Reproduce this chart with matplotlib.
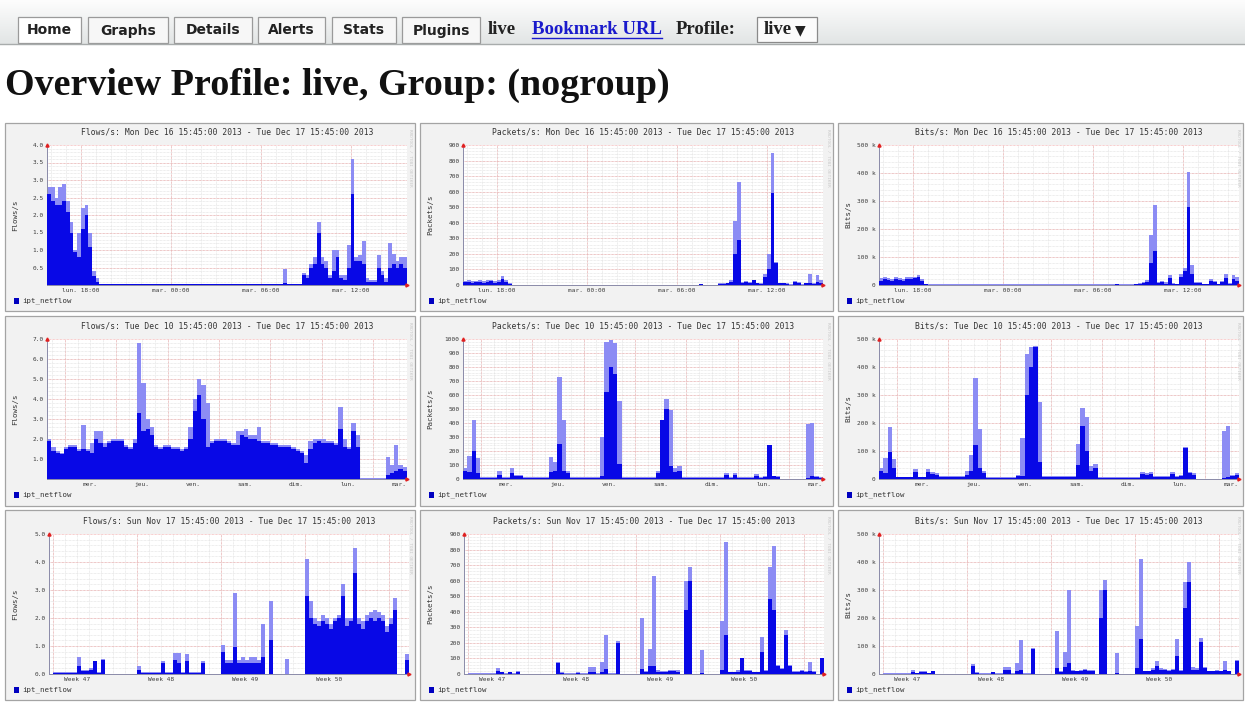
import numpy as np
import matplotlib.pyplot as plt
from matplotlib.patches import Rectangle
from matplotlib.colors import LinearSegmentedColormap

W, H = 1245, 702

# ---- data ----
# day graphs: 96 bins of 15 min, Mon Dec 16 15:45 -> Tue Dec 17 15:45
flows_day_avg = [2.6, 2.4, 2.3, 2.3, 2.4, 2.1, 1.5, 0.95, 0.8, 1.6, 2.0, 1.1, 0.25, 0.08] + [0.03] * 49 + [0.05] + [0.03] * 4 + \
    [0.3, 0.2, 0.5, 0.6, 1.5, 0.6, 0.5, 0.2, 0.4, 0.8, 0.2, 0.15, 0.5, 2.6, 0.7, 0.7, 0.6, 0.1, 0.1, 0.1, 0.5, 0.3, 0.1, 0.5, 0.6, 0.5, 0.6, 0.5]
flows_day_max = [2.8, 2.8, 2.5, 2.8, 2.9, 2.4, 1.8, 1.0, 1.5, 2.2, 2.3, 1.5, 0.4, 0.2] + [0.04] * 49 + [0.45] + [0.04] * 4 + \
    [0.35, 0.3, 0.6, 0.8, 1.8, 0.8, 0.7, 0.3, 1.0, 1.0, 0.3, 0.3, 1.15, 3.6, 0.8, 0.85, 1.25, 0.2, 0.15, 0.15, 0.85, 0.4, 0.2, 1.2, 0.9, 0.7, 0.8, 0.8]
pkt_day_avg = [18, 20, 15, 18, 22, 15, 20, 25, 12, 20, 40, 20, 5] + [2] * 50 + [5] + [2] * 4 + \
    [5, 8, 10, 20, 200, 290, 15, 20, 15, 30, 10, 5, 50, 100, 590, 140, 10, 10, 5, 3, 20, 15, 3, 10, 15, 5, 20, 15]
pkt_day_max = [25, 30, 25, 28, 30, 25, 35, 35, 25, 35, 55, 30, 10] + [3] * 50 + [8] + [3] * 4 + \
    [10, 10, 15, 30, 410, 660, 20, 25, 20, 35, 15, 10, 70, 200, 850, 150, 15, 12, 10, 5, 25, 20, 5, 15, 70, 10, 65, 30]
bits_day_avg = [15, 20, 18, 15, 20, 18, 15, 22, 20, 25, 30, 15, 3] + [1] * 50 + [3] + [1] * 4 + \
    [2, 5, 8, 12, 80, 120, 8, 10, 5, 25, 5, 3, 30, 50, 280, 40, 8, 8, 3, 2, 15, 10, 2, 10, 25, 5, 20, 15]
bits_day_max = [25, 28, 25, 22, 28, 25, 22, 30, 28, 30, 35, 20, 5] + [2] * 50 + [5] + [2] * 4 + \
    [4, 8, 12, 18, 180, 285, 12, 15, 10, 35, 8, 5, 40, 60, 405, 70, 12, 12, 5, 3, 22, 15, 3, 15, 40, 8, 35, 30]

# week graphs: 84 bins of 2 h, Tue Dec 10 15:45 -> Tue Dec 17 15:45
flows_week_avg = [1.9, 1.4, 1.3, 1.25, 1.5, 1.6, 1.6, 1.4, 1.5, 1.4, 1.3, 2.0, 1.8, 1.6, 1.8, 1.9, 1.9, 1.9, 1.6, 1.5,
                  1.8, 3.3, 2.4, 2.5, 2.2, 1.6, 1.5, 1.6, 1.6, 1.5, 1.5, 1.4, 1.5, 2.0, 3.4, 4.2, 3.0, 1.6, 1.8, 1.9,
                  1.9, 1.9, 1.8, 1.7, 1.7, 2.2, 2.1, 2.0, 2.0, 1.9, 1.8, 1.8, 1.7, 1.7, 1.6, 1.6, 1.6, 1.5, 1.4, 1.3,
                  0.8, 1.5, 1.8, 1.9, 1.8, 1.8, 1.8, 1.7, 2.5, 1.6, 1.5, 2.4, 1.6] + [0.02] * 6 + [0.2, 0.3, 0.4, 0.5, 0.4]
flows_week_max = [2.0, 1.6, 1.4, 1.3, 1.6, 1.7, 1.7, 1.5, 2.7, 1.5, 1.8, 2.4, 2.4, 1.8, 1.9, 2.0, 2.0, 2.0, 1.7, 1.6,
                  2.0, 6.8, 4.8, 3.0, 2.6, 1.7, 1.6, 1.7, 1.7, 1.6, 1.6, 1.5, 1.6, 2.6, 4.0, 5.0, 4.7, 3.8, 1.9, 2.0,
                  2.0, 2.0, 1.9, 1.8, 2.4, 2.4, 2.5, 2.2, 2.2, 2.6, 1.9, 1.9, 1.8, 1.8, 1.7, 1.7, 1.7, 1.6, 1.5, 1.4,
                  1.2, 1.9, 2.0, 2.0, 2.0, 1.9, 1.9, 1.8, 3.6, 2.0, 1.6, 2.8, 2.2] + [0.03] * 6 + [1.1, 0.7, 1.7, 0.7, 0.6]
pkt_week_avg = [60, 50, 200, 40, 10, 10, 10, 10, 30, 10, 10, 40, 25, 20] + [10] * 6 + [50, 60, 250, 60, 40, 10] + \
    [10] * 6 + [20, 620, 800, 750, 110, 10] + [10] * 7 + [40, 420, 500, 90, 50, 60] + [10] * 10 + [30, 10, 30] + \
    [10] * 4 + [20, 10, 15, 240, 20, 15] + [0] * 6 + [5, 20, 15, 10]
pkt_week_max = [80, 165, 420, 150, 15, 15, 15, 15, 60, 15, 15, 80, 30, 30] + [15] * 6 + [160, 120, 730, 420, 60, 15] + \
    [15] * 6 + [300, 980, 990, 970, 560, 15] + [15] * 7 + [60, 280, 570, 490, 80, 95] + [15] * 10 + [45, 15, 45] + \
    [15] * 4 + [35, 15, 25, 245, 25, 20] + [0] * 6 + [390, 400, 25, 15]
bits_week_avg = [30, 20, 95, 40, 6, 6, 6, 6, 25, 6, 6, 25, 18, 15] + [8] * 6 + [15, 30, 120, 40, 20] + [5] * 7 + \
    [10, 10, 300, 400, 470, 60] + [8] * 8 + [50, 190, 100, 30, 40] + [5] * 10 + [18, 15, 18] + [8] * 4 + \
    [18, 8, 10, 110, 20, 15] + [0] * 6 + [5, 8, 10, 15]
bits_week_max = [40, 75, 185, 70, 8, 8, 8, 8, 35, 8, 8, 35, 25, 20] + [10] * 6 + [30, 85, 360, 180, 30] + [8] * 7 + \
    [15, 145, 445, 470, 475, 275] + [10] * 8 + [125, 255, 220, 45, 55] + [8] * 10 + [25, 20, 25] + [10] * 4 + \
    [25, 10, 15, 115, 25, 20] + [0] * 6 + [170, 190, 15, 20]

# month graphs: 90 bins of 8 h, Sun Nov 17 15:45 -> Tue Dec 17 15:45
flows_month_avg = [0.0] + [0.05] * 6 + [0.3, 0.1, 0.1, 0.15, 0.45, 0.05, 0.5] + [0.0] * 8 + [0.15] + [0.05] * 5 + \
    [0.4, 0.05, 0.05, 0.5, 0.4, 0.05, 0.45, 0.05, 0.05, 0.05, 0.4] + [0.0] * 4 + \
    [0.8, 0.4, 0.4, 0.95, 0.4, 0.4, 0.4, 0.4, 0.4, 0.4, 0.6, 0.0, 1.2] + [0.0] * 8 + \
    [2.8, 2.0, 1.8, 1.7, 1.9, 1.8, 1.6, 1.9, 2.0, 2.8, 1.7, 1.9, 3.6, 1.8, 1.6, 1.9, 2.0, 1.9, 2.0, 1.9, 1.5, 1.8, 2.3, 0.0, 0.0, 0.5]
flows_month_max = [0.0] + [0.06] * 6 + [0.6, 0.15, 0.15, 0.2, 0.45, 0.06, 0.55] + [0.0] * 8 + [0.3] + [0.06] * 5 + \
    [0.45, 0.06, 0.06, 0.75, 0.75, 0.06, 0.7, 0.06, 0.06, 0.06, 0.45] + [0.0] * 4 + \
    [1.05, 0.5, 0.5, 2.9, 0.5, 0.6, 0.5, 0.6, 0.6, 0.5, 1.8, 0.0, 2.6] + [0.0] * 3 + [0.55] + [0.0] * 4 + \
    [4.1, 2.6, 2.0, 1.9, 2.1, 2.0, 1.8, 2.0, 2.1, 3.2, 2.0, 2.0, 4.5, 2.0, 1.9, 2.1, 2.2, 2.3, 2.2, 2.1, 1.7, 2.0, 2.7, 0.0, 0.0, 0.7]
pkt_month_avg = [0] + [2] * 7 + [20, 10, 2, 12, 2, 15] + [0] * 9 + [70, 5] + [2] * 3 + \
    [8, 2, 2, 10, 15, 2, 15, 30, 2, 2, 200] + [0] * 5 + \
    [30, 15, 50, 50, 10, 15, 10, 20, 20, 15, 0, 410, 600, 0, 0, 5] + [0] * 4 + \
    [25, 250, 10, 10, 15, 100, 20, 20, 10, 10, 140, 20, 480, 410, 50, 30, 250, 50, 15, 15, 20, 15, 20, 15, 0, 100]
pkt_month_max = [0] + [4] * 7 + [40, 15, 5, 15, 5, 20] + [0] * 9 + [75, 10] + [4] * 3 + \
    [10, 4, 4, 45, 45, 4, 80, 250, 4, 4, 210] + [0] * 5 + \
    [360, 20, 160, 630, 25, 20, 20, 25, 25, 25, 0, 600, 690, 0, 0, 155] + [0] * 4 + \
    [340, 850, 15, 15, 25, 100, 25, 25, 15, 15, 240, 25, 690, 820, 55, 40, 285, 55, 20, 20, 25, 20, 75, 20, 0, 100]
bits_month_avg = [0] + [1] * 7 + [8, 3, 8, 8, 2, 10] + [0] * 9 + [30, 5] + [1] * 3 + \
    [6, 1, 1, 15, 15, 1, 12, 15, 1, 1, 90] + [0] * 5 + \
    [20, 8, 25, 40, 10, 10, 12, 15, 12, 10, 0, 200, 300, 0, 0, 5] + [0] * 4 + \
    [20, 125, 10, 10, 15, 30, 15, 15, 12, 15, 65, 12, 235, 330, 15, 15, 115, 20, 10, 10, 12, 10, 15, 10, 0, 45]
bits_month_max = [0] + [2] * 7 + [15, 5, 10, 10, 3, 12] + [0] * 9 + [35, 8] + [2] * 3 + \
    [8, 2, 2, 25, 25, 2, 40, 120, 2, 2, 92] + [0] * 5 + \
    [155, 12, 80, 300, 15, 12, 15, 18, 15, 15, 0, 300, 335, 0, 0, 75] + [0] * 4 + \
    [170, 410, 12, 12, 20, 45, 20, 18, 15, 18, 125, 15, 330, 400, 25, 20, 130, 25, 12, 12, 15, 12, 45, 12, 0, 50]

day_labels = ['lun. 18:00', 'mar. 00:00', 'mar. 06:00', 'mar. 12:00']
week_labels = ['mer.', 'jeu.', 'ven.', 'sam.', 'dim.', 'lun.', 'mar.']
month_labels = ['Week 47', 'Week 48', 'Week 49', 'Week 50']
tabs = ['Home', 'Graphs', 'Details', 'Alerts', 'Stats', 'Plugins']

AVGC = '#0808e6'
MAXC = '#8c8cf4'
MONO = 'DejaVu Sans Mono'


def fx(x):
    return x / W


def fy(y):
    return 1 - y / H


fig = plt.figure(figsize=(W / 100, H / 100), dpi=100)
fig.patch.set_facecolor('white')

# ---- top navigation bar ----
bar = fig.add_axes([0, fy(44), 1, 44 / H])
bar.imshow(np.linspace(0, 1, 60).reshape(-1, 1), aspect='auto',
           cmap=LinearSegmentedColormap.from_list('nav', ['#fdfdfd', '#e2e5e5']))
bar.axis('off')
fig.add_artist(plt.Line2D([0, 1], [fy(43.5)] * 2, color='#a8acac', lw=1))

tab_l = [18, 88, 174, 258, 332, 402]
tab_r = [81, 168, 252, 325, 396, 480]
for name, l, r in zip(tabs, tab_l, tab_r):
    fc = '#ffffff' if name == 'Home' else '#f7f7f7'
    fig.add_artist(Rectangle((fx(l), fy(43)), fx(r) - fx(l), 26 / H, transform=fig.transFigure,
                             facecolor=fc, edgecolor='#9a9a9a', lw=0.9))
    fig.text(fx((l + r) / 2), fy(30.5), name, ha='center', va='center', size=10,
             weight='bold', color='#222222', family='DejaVu Sans')

fig.text(fx(488), fy(30), 'live', va='center', size=13.5, weight='bold', family='Liberation Serif', color='#222222')
fig.text(fx(532), fy(30), 'Bookmark URL', va='center', size=13.5, weight='bold', family='Liberation Serif',
         color='#1a1acc')
fig.add_artist(plt.Line2D([fx(532), fx(662)], [fy(37.5)] * 2, color='#1a1acc', lw=1))
fig.text(fx(676), fy(30), 'Profile:', va='center', size=13.5, weight='bold', family='Liberation Serif', color='#222222')
fig.add_artist(Rectangle((fx(757), fy(42)), fx(817) - fx(757), 25 / H, transform=fig.transFigure,
                         facecolor='#fbfbfb', edgecolor='#8a8a8a', lw=0.9))
fig.text(fx(764), fy(30), 'live', va='center', size=13.5, weight='bold', family='Liberation Serif', color='#222222')
fig.text(fx(795), fy(30), '\u25bc', va='center', size=10, family='DejaVu Sans', color='#222222')

fig.text(fx(5), fy(85), 'Overview Profile: live, Group: (nogroup)', va='center', size=27.4,
         weight='bold', family='Liberation Serif', color='#111111')


# ---- one rrd graph ----
def graph(bl, bt, br, bb, pl, pt, title, ylabel, avg, mx, span, kind, ymax, ystep, ymin_lab, yminor, unit):
    fig.add_artist(Rectangle((fx(bl), fy(bb)), fx(br) - fx(bl), (bb - bt) / H, transform=fig.transFigure,
                             facecolor='#f2f2f2', edgecolor='#a4a4a4', lw=0.9, zorder=-5))
    ax = fig.add_axes([fx(pl), fy(pt + 140), 360 / W, 140 / H])
    ax.set_facecolor('white')

    if kind == 'day':
        minor = np.arange(0.25, span, 1)
        major = np.arange(2.25, span, 6)
        lpos = np.arange(2.25, span, 6)
        labs = day_labels
    elif kind == 'week':
        minor = np.arange(2.25, span, 6)
        major = np.arange(8.25, span, 24)
        lpos = np.arange(20.25, span, 24)
        labs = week_labels
    else:
        minor = np.arange(8.25, span, 24)
        major = np.arange(8.25, span, 168)
        lpos = np.arange(56.25, span, 168)
        labs = month_labels

    ax.vlines(minor, 0, ymax, colors='#dcdcdc', lw=0.5, linestyles=(0, (1, 1)), zorder=0)
    ax.vlines(major, 0, ymax, colors='#f0a0a0', lw=0.5, linestyles=(0, (1, 1)), zorder=0)
    ax.hlines(np.arange(yminor, ymax, yminor), 0, span, colors='#dcdcdc', lw=0.5,
              linestyles=(0, (1, 1)), zorder=0)
    ax.hlines(np.arange(ystep, ymax + 1e-9, ystep), 0, span, colors='#f0a0a0', lw=0.5,
              linestyles=(0, (1, 1)), zorder=0)

    edges = np.linspace(0, span, len(avg) + 1)
    ax.fill_between(edges, np.append(mx, mx[-1]), step='post', color=MAXC, lw=0, zorder=2)
    ax.fill_between(edges, np.append(avg, avg[-1]), step='post', color=AVGC, lw=0, zorder=3)

    ax.set_xlim(0, span)
    ax.set_ylim(0, ymax)
    yt = np.arange(ymin_lab, ymax + 1e-9, ystep)
    if unit == 'f':
        ylabs = ['%.1f' % v for v in yt]
    elif unit == 'k':
        ylabs = ['0' if v == 0 else '%d k' % v for v in yt]
    else:
        ylabs = ['%d' % v for v in yt]
    ax.set_yticks(yt, ylabs)
    ax.set_xticks(lpos, labs)
    ax.tick_params(length=0, labelsize=4.4, colors='#3a3a3a', pad=2.5)
    for t in ax.get_xticklabels() + ax.get_yticklabels():
        t.set_family(MONO)
    for s in ['top', 'right']:
        ax.spines[s].set_visible(False)
    for s in ['left', 'bottom']:
        ax.spines[s].set_color('#8a8aa8')
        ax.spines[s].set_linewidth(0.7)
    ax.plot([0], [ymax], marker='^', color='#e02020', ms=2.2, clip_on=False, zorder=5)
    ax.plot([span], [0], marker='>', color='#e02020', ms=2.2, clip_on=False, zorder=5)

    fig.text(fx(pl + 180), fy(pt - 13), title, ha='center', va='center', family=MONO, size=5.8, color='#333333')
    fig.text(fx(bl + 10), fy(pt + 70), ylabel, rotation=90, ha='center', va='center', family=MONO,
             size=5.3, color='#333333')
    fig.add_artist(Rectangle((fx(bl + 9), fy(pt + 159)), 5 / W, 6 / H, transform=fig.transFigure,
                             facecolor='#0000c0', edgecolor='none'))
    fig.text(fx(bl + 17), fy(pt + 156), 'ipt_netflow', va='center', family=MONO, size=5.3, color='#333333')
    fig.text(fx(br - 5), fy(bt + 6), 'RRDTOOL / TOBI OETIKER', rotation=-90, ha='center', va='top',
             family=MONO, size=3.2, color='#c8c8c8')


box_x = [(5, 415), (420, 833), (838, 1243)]
box_y = [(123, 311), (316, 506), (510, 700)]
plot_l = [[47, 463, 879], [47, 463, 879], [49, 464, 879]]
plot_t = [145, 339, 534]

periods = [('Mon Dec 16 15:45:00 2013 - Tue Dec 17 15:45:00 2013', 24, 'day'),
           ('Tue Dec 10 15:45:00 2013 - Tue Dec 17 15:45:00 2013', 168, 'week'),
           ('Sun Nov 17 15:45:00 2013 - Tue Dec 17 15:45:00 2013', 720, 'month')]

series = [
    [(flows_day_avg, flows_day_max, 'Flows/s', 4.0, 0.5, 0.5, 0.1, 'f'),
     (pkt_day_avg, pkt_day_max, 'Packets/s', 900, 100, 0, 20, 'd'),
     (bits_day_avg, bits_day_max, 'Bits/s', 500, 100, 0, 20, 'k')],
    [(flows_week_avg, flows_week_max, 'Flows/s', 7.0, 1.0, 1.0, 0.2, 'f'),
     (pkt_week_avg, pkt_week_max, 'Packets/s', 1000, 100, 0, 20, 'd'),
     (bits_week_avg, bits_week_max, 'Bits/s', 500, 100, 0, 20, 'k')],
    [(flows_month_avg, flows_month_max, 'Flows/s', 5.0, 1.0, 0.0, 0.2, 'f'),
     (pkt_month_avg, pkt_month_max, 'Packets/s', 900, 100, 0, 20, 'd'),
     (bits_month_avg, bits_month_max, 'Bits/s', 500, 100, 0, 20, 'k')],
]

for r in range(3):
    span_txt, span, kind = periods[r]
    for c in range(3):
        avg, mx, name, ymax, ystep, ymin_lab, yminor, unit = series[r][c]
        graph(box_x[c][0], box_y[r][0], box_x[c][1], box_y[r][1], plot_l[r][c], plot_t[r],
              name + ': ' + span_txt, name, np.array(avg, float), np.array(mx, float), span, kind,
              ymax, ystep, ymin_lab, yminor, unit)

fig.savefig('out.png', dpi=100)
